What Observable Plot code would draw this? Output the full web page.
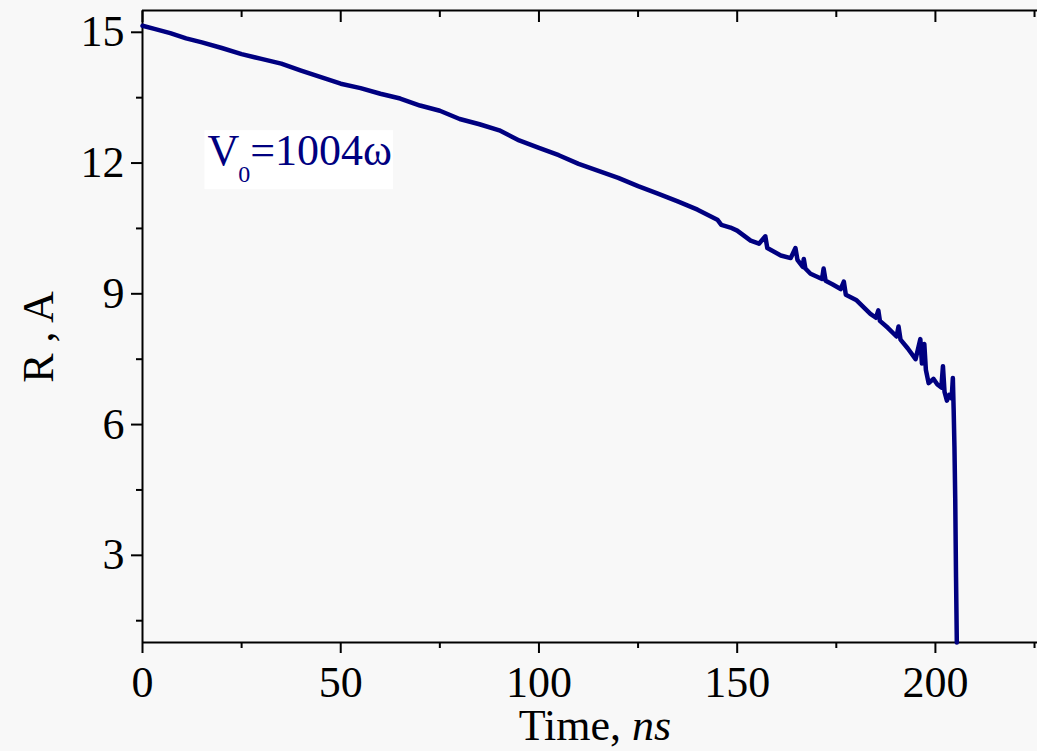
<!DOCTYPE html>
<html>
<head>
<meta charset="utf-8">
<script src="https://cdn.jsdelivr.net/npm/d3@7"></script>
<script src="https://cdn.jsdelivr.net/npm/@observablehq/plot@0.6"></script>
<style>
  html, body { margin: 0; padding: 0; background: #f8f8f8; }
  #chart svg { display: block; background: #f8f8f8; }
</style>
</head>
<body>
<div id="chart"></div>
<script>
// Time (ns) and R (A)
const times = [0, 3, 7, 11, 15, 20, 25, 30, 35, 40, 45, 50, 55, 60, 65, 70, 75, 80, 85, 90,
  95, 100, 105, 110, 115, 120, 125, 130, 135, 140, 145, 146, 148.3, 150, 153.4, 155.5, 157.1, 157.6,
  161, 163.5, 164.7, 165.2, 166.5, 166.8, 167.2, 168.5, 171.4, 171.8, 172.3, 174, 176.1, 176.9, 177.4,
  180, 183.6, 185, 185.6, 186, 188, 190.2, 190.7, 191.2, 193, 195, 196.2, 196.6, 197.2, 197.6,
  198.3, 199.5, 200.5, 201.5, 201.9, 202.3, 202.9, 203.5, 204.1, 204.4, 204.6, 204.8, 205.0, 205.2, 205.4];
const radii = [15.15, 15.08, 14.98, 14.86, 14.77, 14.64, 14.50, 14.39, 14.28, 14.12, 13.97, 13.82, 13.72, 13.59, 13.48, 13.32, 13.20, 13.01, 12.89, 12.75,
  12.52, 12.35, 12.18, 11.98, 11.82, 11.66, 11.47, 11.30, 11.12, 10.93, 10.70, 10.58, 10.52, 10.45, 10.22, 10.15, 10.32, 10.05,
  9.88, 9.82, 10.05, 9.78, 9.62, 9.80, 9.58, 9.46, 9.34, 9.58, 9.30, 9.22, 9.11, 9.28, 8.98,
  8.86, 8.54, 8.45, 8.62, 8.38, 8.22, 8.02, 8.25, 7.95, 7.75, 7.50, 7.96, 7.40, 7.85, 7.25,
  6.95, 7.05, 6.92, 6.85, 7.34, 6.75, 6.55, 6.68, 6.60, 7.07, 6.35, 5.5, 4.3, 2.5, 1.0];

const xTicks = [0, 50, 100, 150, 200];
const xMinorTicks = [25, 75, 125, 175, 225];
const yTicks = [3, 6, 9, 12, 15];
const yMinorTicks = [1.5, 4.5, 7.5, 10.5, 13.5];
const xDomain = [0, 225.75];
const yDomain = [1, 15.5];

const xLabel = "Time, ";
const xLabelUnit = "ns";
const yLabel = "R , A";
const annotationText = ["V", "0", "=1004ω"];
const annotationPos = [16.5, 11.94];

const data = times.map((t, i) => ({t, r: radii[i]}));

const ink = "#000";
const lineColor = "#000080";

const chart = Plot.plot({
  width: 1037,
  height: 751,
  marginLeft: 142,
  marginRight: 0,
  marginTop: 10,
  marginBottom: 109,
  style: {background: "#f8f8f8", fontFamily: "Liberation Serif", fontSize: "44px", color: ink},
  x: {domain: xDomain},
  y: {domain: yDomain},
  marks: [
    Plot.axisX({ticks: xTicks, tickSize: 11, tickPadding: 12, tickFormat: d => String(d), label: null, strokeWidth: 2, fontSize: 44}),
    Plot.axisX({ticks: xMinorTicks, tickSize: 6, text: null, label: null, strokeWidth: 2}),
    Plot.axisX({anchor: "top", ticks: xTicks, tickSize: -11, text: null, label: null, strokeWidth: 2}),
    Plot.axisX({anchor: "top", ticks: xMinorTicks, tickSize: -6, text: null, label: null, strokeWidth: 2}),
    Plot.axisY({ticks: yTicks, tickSize: 11, tickPadding: 7, tickFormat: d => String(d), label: null, strokeWidth: 2, fontSize: 44}),
    Plot.axisY({ticks: yMinorTicks, tickSize: 6, text: null, label: null, strokeWidth: 2}),
    Plot.ruleX([xDomain[0]], {stroke: ink, strokeWidth: 2}),
    Plot.ruleY([yDomain[0]], {stroke: ink, strokeWidth: 2}),
    Plot.ruleY([yDomain[1]], {stroke: ink, strokeWidth: 2}),
    Plot.line(data, {x: "t", y: "r", stroke: lineColor, strokeWidth: 4.5, strokeLinejoin: "round"})
  ]
});

document.getElementById("chart").appendChild(chart);

const svg = d3.select(chart);
const sx = chart.scale("x"), sy = chart.scale("y");

// x-axis label with italic unit
const xl = svg.append("text")
  .attr("x", 595).attr("y", 740)
  .attr("text-anchor", "middle")
  .attr("font-family", "Liberation Serif").attr("font-size", 44).attr("fill", ink);
xl.append("tspan").text(xLabel);
xl.append("tspan").attr("font-style", "italic").text(xLabelUnit);

// y-axis label
svg.append("text")
  .attr("transform", "translate(53,337) rotate(-90)")
  .attr("text-anchor", "middle")
  .attr("font-family", "Liberation Serif").attr("font-size", 44).attr("fill", ink)
  .text(yLabel);

// annotation
const ag = svg.append("g");
const at = ag.append("text")
  .attr("x", sx.apply(annotationPos[0])).attr("y", sy.apply(annotationPos[1]))
  .attr("text-anchor", "start")
  .attr("font-family", "Liberation Serif").attr("font-size", 44).attr("fill", lineColor);
at.append("tspan").text(annotationText[0]);
at.append("tspan").attr("dx", -1).attr("dy", 17).attr("font-size", 24).text(annotationText[1]);
at.append("tspan").attr("dy", -17).text(annotationText[2]);
const bb = at.node().getBBox();
ag.insert("rect", "text")
  .attr("x", bb.x - 3).attr("y", bb.y + 4)
  .attr("width", bb.width + 4).attr("height", bb.height - 2)
  .attr("fill", "#ffffff");
</script>
</body>
</html>
